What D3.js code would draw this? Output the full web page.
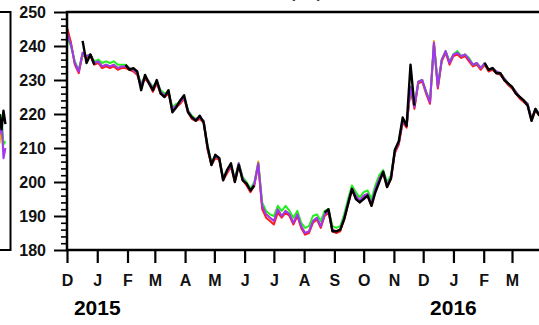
<!DOCTYPE html>
<html>
<head>
<meta charset="utf-8">
<script src="https://cdn.jsdelivr.net/npm/d3@7"></script>
<style>
  html, body { margin: 0; padding: 0; background: #fff; }
  svg { display: block; font-family: "Liberation Sans", Arial, sans-serif; }
</style>
</head>
<body>
<div id="chart"></div>
<script>
// sampling grid: every 4 days from 1 Dec 2014
const startDate = Date.UTC(2014, 11, 1)
const stepDays = 4

const yTicks = [180, 190, 200, 210, 220, 230, 240, 250]
const monthLabels = ["J", "F", "M", "A", "M", "J", "J", "A", "S", "O", "N", "D"]
const yearLabels = ["2015", "2016"]

const purple = [244, 240.5, 235, 232.5, 238, 237, 237.5, 235, 235.5, 234, 234.5, 234, 234.5, 233.5, 234,
  234, 233.5, 233, 232, 228.5, 231, 229.5, 227.5, 229.5, 226.5, 225.5, 226.5, 221.5, 222.5, 223.5, 225, 221,
  219, 218.5, 219, 218, 210, 205.5, 207.5, 207, 201, 203, 205, 200.5, 205.5, 201, 199.5, 197.5, 199.5, 205.5,
  193, 190.5, 189.5, 188.5, 192, 190, 191.5, 190.5, 188, 190.5, 187, 185, 185.5, 188.5, 189.5, 187, 190.5,
  191.5, 186, 185.5, 186, 189.5, 194, 198, 196, 194.5, 196, 196.5, 193.5, 198, 201, 203, 199, 201.5, 209,
  211.5, 218, 216.5, 228, 222, 229.5, 230, 226.5, 223.5, 241, 228, 236, 238.5, 235, 237.5, 238, 237, 237.5,
  236, 234.5, 235, 233.5, 235, 233, 233.5, 232.5, 232, 230.5, 229, 228, 226.5, 225, 224, 223, 218.5, 221.5, 220]

const green = [242.5, 240, 235.5, 233, 237.5, 237, 237.5, 235.5, 236, 235, 235.5, 235, 235.5, 234.5, 234.5,
  234.5, 233.5, 233, 232, 229, 231, 229.5, 228, 229.5, 227, 226, 226.5, 222, 223, 223.5, 225, 221,
  219.5, 218.5, 219, 218, 210.5, 206, 207.5, 207, 201.5, 203.5, 205, 201, 205.5, 201.5, 200, 198, 200, 205.5,
  194, 191.5, 190.5, 190, 193, 191.5, 193, 191.5, 189.5, 191.5, 188, 186.5, 187, 190, 190.5, 188.5, 191.5,
  192, 187, 186.5, 187, 190.5, 195, 199, 197, 195.5, 197, 197.5, 195, 199, 202, 203.5, 200, 202, 209.5,
  212, 218.5, 217, 228, 222.5, 229.5, 230, 226.5, 224, 240.5, 228.5, 236, 238.5, 235.5, 237.5, 238.5, 237, 237.5,
  236.5, 234.5, 235, 233.5, 235, 233, 233.5, 232.5, 232, 230.5, 229, 228, 226.5, 225, 224, 223, 218.5, 221.5, 220]

const red = [245.5, 241, 234.5, 232, 237.5, 236.5, 237, 234.5, 235, 233.5, 234, 233.5, 234, 233, 233.5,
  233.5, 233, 232.5, 231.5, 228, 230.5, 229, 226.5, 229, 226, 225, 226, 221, 222, 223, 224.5, 220.5,
  218.5, 218, 218.5, 217.5, 209.5, 205, 207, 206.5, 200.5, 202.5, 204.5, 200, 205, 200.5, 199, 197, 199, 205,
  192, 189.5, 188.5, 187.5, 191, 189.5, 191, 190, 187.5, 190, 186.5, 184.5, 185, 188, 189, 186.5, 190,
  191, 185.5, 185, 185.5, 189, 193.5, 197.5, 195.5, 194, 195.5, 196, 193, 197.5, 200.5, 202.5, 198.5, 201, 208.5,
  211, 217.5, 216, 227.5, 221.5, 229, 229.5, 226, 223, 240.5, 227.5, 235.5, 238, 234.5, 237, 237.5, 236.5, 237,
  235.5, 234, 234.5, 233, 234.5, 232.5, 233, 232, 231.5, 230, 228.5, 227.5, 226, 224.5, 223.5, 222.5, 218, 221, 219.5]

const orange = [245, 241, 235, 232.5, 238, 237, 237.5, 235, 235.5, 234, 234.5, 234, 234.5, 233.5, 234,
  234, 233.5, 233, 232, 228.5, 231, 229.5, 227.5, 229.5, 226.5, 225.5, 226.5, 221.5, 222.5, 223.5, 225, 221,
  219, 218.5, 219, 218, 210, 205.5, 207.5, 207, 201, 203, 205, 200.5, 205.5, 201, 199.5, 197.5, 199.5, 206,
  193, 190.5, 189.5, 188.5, 192, 190, 191.5, 190.5, 188, 190.5, 187, 185, 185.5, 188.5, 189.5, 187, 190.5,
  191.5, 186, 185.5, 186, 189.5, 194, 198, 196, 194.5, 196, 196.5, 193.5, 198, 201, 203, 199, 201.5, 209,
  211.5, 218, 216.5, 228, 222, 229.5, 230, 226.5, 223.5, 241.5, 228, 236, 238.5, 235, 237.5, 238, 237, 237.5,
  236, 234.5, 235, 233.5, 235, 233, 233.5, 232.5, 232, 230.5, 229, 228, 226.5, 225, 224, 223, 218.5, 221.5, 220]

// observations, with gaps
const observed = [null, null, null, null, 241.5, 235, 237.5, 234.5,
  null, null, null, null, null, null, null,
  234.5, 233, 233.5, 232.5, 227, 231.5, 229, 227, 230, 226, 225, 227, 220.5, 222, 224, 225.5, 220.5,
  219, 218, 219.5, 217.5, 210.5, 205, 208, 207, 200.5, 203.5, 205.5, 200, 205, 200.5, 199.5, 197.5, 199,
  null, null, null, null, null, null, null, null, null, null, null, null, null, null, null, null, null,
  191, 192, 185.5, 185.5, 186, 189, 193.5, 198, 195, 194, 195, 196, 193, 197, 200, 203, 198.5, 201,
  209.5, 212, 219, 216.5, 234.5, 222.5,
  null, null, null, null, null, null, null, null, null, null, null, null, null, null, null, null, null,
  235, 233, 233.5, 232, 232, 230, 229, 228, 226, 225, 224, 222.5, 218, 221.5, 219.5]

// neighbouring panel (only its right edge shows), every 2 days from 10 Mar 2016
const leftStart = Date.UTC(2016, 2, 10)
const leftPurple = [226, 224, 220.5, 218.5, 214, 218, 207, 210]
const leftGreen = [226.5, 224.5, 221.5, 219, 217, 219.5, 211, 212]
const leftOrange = [225.5, 223, 219, 214, 211.5, 216, 209, 209]
const leftObserved = [null, null, null, null, 220, 215.5, 221, 217]

const width = 539, height = 325
const margin = { top: 12, left: 67, bottom: 75 }
const plotBottom = height - margin.bottom

const svg = d3.select("#chart").append("svg")
  .attr("width", width)
  .attr("height", height)

const x = d3.scaleUtc()
  .domain([new Date(Date.UTC(2014, 11, 1)), new Date(Date.UTC(2016, 2, 1))])
  .range([margin.left, 512])

const y = d3.scaleLinear()
  .domain([180, 250])
  .range([plotBottom, margin.top])

const dateAt = (start, step) => (d, i) => new Date(start + i * step * 864e5)

// clip for the main panel
svg.append("clipPath").attr("id", "plotClip")
  .append("rect")
  .attr("x", margin.left).attr("y", 0)
  .attr("width", width - margin.left).attr("height", plotBottom)

const plot = svg.append("g").attr("clip-path", "url(#plotClip)")

function drawSeries(g, values, color, lineWidth, start, step, xs) {
  const dates = values.map(dateAt(start, step))
  const line = d3.line()
    .defined(d => d != null)
    .x((d, i) => xs(dates[i]))
    .y(d => y(d))
  g.append("path")
    .datum(values)
    .attr("d", line)
    .attr("fill", "none")
    .attr("stroke", color)
    .attr("stroke-width", lineWidth)
    .attr("stroke-linejoin", "round")
}

drawSeries(plot, orange, "#ffa500", 2, startDate, stepDays, x)
drawSeries(plot, red, "#ff1a1a", 2, startDate, stepDays, x)
drawSeries(plot, green, "#22ee22", 2, startDate, stepDays, x)
drawSeries(plot, purple, "#a035f5", 2, startDate, stepDays, x)
drawSeries(plot, observed, "#000", 2.4, startDate, stepDays, x)

// left neighbour panel: same time axis, shifted so its right edge lands at x = 10
const xLeft = x.copy().range([margin.left - 529, 512 - 529])
svg.append("clipPath").attr("id", "leftClip")
  .append("rect").attr("x", 0).attr("y", 0).attr("width", 10).attr("height", plotBottom)
const leftPlot = svg.append("g").attr("clip-path", "url(#leftClip)")
drawSeries(leftPlot, leftOrange, "#ffa500", 2, leftStart, 2, xLeft)
drawSeries(leftPlot, leftGreen, "#22ee22", 2, leftStart, 2, xLeft)
drawSeries(leftPlot, leftPurple, "#a035f5", 2, leftStart, 2, xLeft)
drawSeries(leftPlot, leftObserved, "#000", 2.4, leftStart, 2, xLeft)

svg.append("path")
  .attr("d", `M0,${margin.top}H10.5V${plotBottom}H0`)
  .attr("fill", "none")
  .attr("stroke", "#000")
  .attr("stroke-width", 2)

// frame
svg.append("path")
  .attr("d", `M${width},${margin.top}H${margin.left}V${plotBottom}H${width}`)
  .attr("fill", "none")
  .attr("stroke", "#000")
  .attr("stroke-width", 2.5)

// y axis, major + minor ticks
const yMinor = d3.range(180, 251, 2).filter(v => v % 10 !== 0)
svg.append("g")
  .attr("transform", `translate(${margin.left},0)`)
  .call(d3.axisLeft(y).tickValues(yMinor).tickSize(6).tickSizeOuter(0).tickFormat(""))
  .call(g => g.select(".domain").remove())
  .call(g => g.selectAll(".tick line").attr("stroke-width", 1.6))

svg.append("g")
  .attr("transform", `translate(${margin.left},0)`)
  .call(d3.axisLeft(y).tickValues(yTicks).tickSize(13).tickSizeOuter(0).tickPadding(8).tickFormat(d3.format("d")))
  .call(g => g.select(".domain").remove())
  .call(g => g.selectAll(".tick line").attr("stroke-width", 2))
  .call(g => g.selectAll(".tick text")
    .attr("font-size", 16)
    .attr("font-weight", "bold")
    .attr("fill", "#111")
    .attr("font-family", "Liberation Sans, Arial, sans-serif"))

// x axis, one tick per month
svg.append("g")
  .attr("transform", `translate(0,${plotBottom})`)
  .call(d3.axisBottom(x).ticks(d3.utcMonth.every(1)).tickSize(13).tickSizeOuter(0).tickPadding(12)
    .tickFormat(d => monthLabels[d.getUTCMonth()]))
  .call(g => g.select(".domain").remove())
  .call(g => g.selectAll(".tick line").attr("stroke-width", 2.2))
  .call(g => g.selectAll(".tick text")
    .attr("font-size", 16)
    .attr("font-weight", "bold")
    .attr("fill", "#111")
    .attr("font-family", "Liberation Sans, Arial, sans-serif"))

svg.selectAll(".year")
  .data(yearLabels)
  .enter()
  .append("text")
  .attr("class", "year")
  .attr("x", d => x(new Date(Date.UTC(+d, 0, 1))))
  .attr("y", 315)
  .attr("text-anchor", "middle")
  .attr("font-size", 21)
  .attr("font-weight", "bold")
  .text(d => d)

// title sits above the crop, only its lowest pixels show
svg.append("text")
  .attr("x", 306)
  .attr("y", -2.5)
  .attr("text-anchor", "middle")
  .attr("font-size", 15)
  .attr("font-weight", "bold")
  .attr("fill", "#333")
  .text("(DU)")
</script>
</body>
</html>
